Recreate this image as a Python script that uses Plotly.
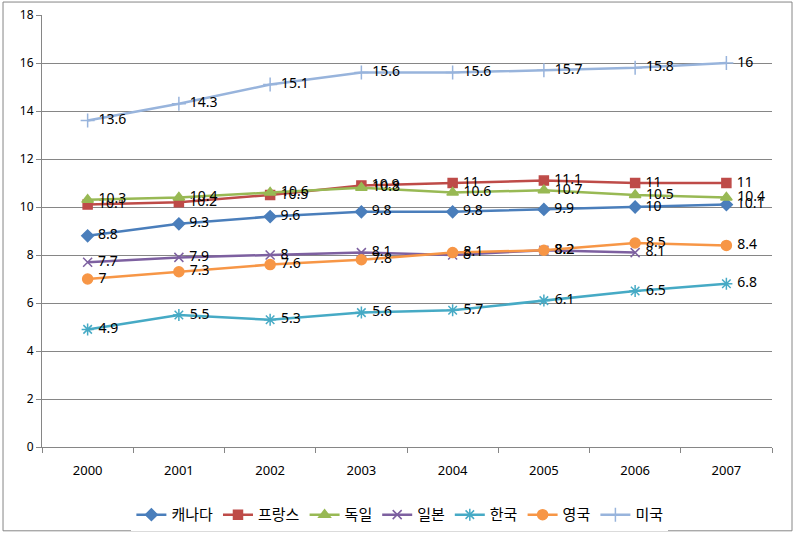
import plotly.graph_objects as go

years = ["2000", "2001", "2002", "2003", "2004", "2005", "2006", "2007"]
canada = [8.8, 9.3, 9.6, 9.8, 9.8, 9.9, 10, 10.1]
france = [10.1, 10.2, 10.5, 10.9, 11, 11.1, 11, 11]
germany = [10.3, 10.4, 10.6, 10.8, 10.6, 10.7, 10.5, 10.4]
japan = [7.7, 7.9, 8, 8.1, 8, 8.2, 8.1, None]
korea = [4.9, 5.5, 5.3, 5.6, 5.7, 6.1, 6.5, 6.8]
uk = [7, 7.3, 7.6, 7.8, 8.1, 8.2, 8.5, 8.4]
usa = [13.6, 14.3, 15.1, 15.6, 15.6, 15.7, 15.8, 16]

series = [
    ("캐나다", canada, "#4A7EBB", "diamond", 9),
    ("프랑스", france, "#BE4B48", "square", 9),
    ("독일", germany, "#98B954", "triangle-up", 10),
    ("일본", japan, "#7D60A0", "x-thin-open", 9),
    ("한국", korea, "#46AAC5", "asterisk-open", 10),
    ("영국", uk, "#F79646", "circle", 10),
    ("미국", usa, "#98B4DC", "cross-thin-open", 10),
]

fig = go.Figure()
for name, vals, color, sym, size in series:
    fig.add_trace(go.Scatter(
        x=years, y=vals, name=name, mode="lines+markers+text",
        line=dict(color=color, width=2.5),
        marker=dict(symbol=sym, size=size, color=color,
                    line=dict(color=color, width=1.5)),
        text=[("" if v is None else " " + f"{v:g}") for v in vals],
        textposition="middle right",
        textfont=dict(size=14, color="#000000", family="Noto Sans"),
        cliponaxis=False,
    ))

fig.update_layout(
    width=795, height=533,
    margin=dict(l=42, r=23, t=15, b=86, autoexpand=False),
    paper_bgcolor="white", plot_bgcolor="white",
    font=dict(family="Noto Sans CJK KR", color="#000000"),
    showlegend=True,
    legend=dict(orientation="h", xref="container", yref="container",
                x=0.503, xanchor="center", y=0.034, yanchor="middle",
                font=dict(size=15, family="Noto Sans CJK KR"), itemwidth=30,
                traceorder="normal"),
    xaxis=dict(type="category", showgrid=False, showline=True, linecolor="#868686",
               linewidth=1, ticks="outside", tickson="boundaries", ticklen=5,
               tickcolor="#868686", tickfont=dict(size=13, family="Noto Sans"),
               ticklabelstandoff=11,
               range=[-0.5, 7.5], zeroline=False, automargin=False),
    yaxis=dict(range=[0, 18], dtick=2, showgrid=True, gridcolor="#868686", gridwidth=1,
               showline=True, linecolor="#868686", linewidth=1, ticks="outside",
               ticklen=5, tickcolor="#868686", tickfont=dict(size=12, family="Noto Sans"),
               zeroline=False, automargin=False),
)

fig.add_shape(type="rect", xref="paper", yref="paper",
              x0=-0.0534, x1=1.0274, y0=-0.194, y1=1.030,
              line=dict(color="#868686", width=1), fillcolor="rgba(0,0,0,0)", layer="below")

fig.write_html("out.html", config={"displayModeBar": False},
               post_script="document.body.style.margin='0';document.body.style.overflow='hidden';")
